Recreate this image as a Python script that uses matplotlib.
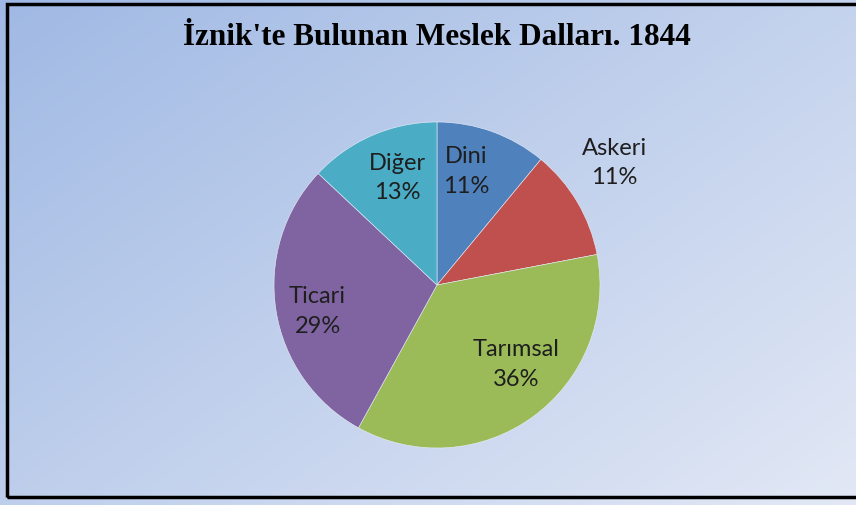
import matplotlib
matplotlib.use("Agg")
import matplotlib.pyplot as plt
import numpy as np
from matplotlib.patches import Rectangle

# Veriler
categories = ["Dini", "Askeri", "Tarımsal", "Ticari", "Diğer"]
shares = [11, 11, 36, 29, 13]
colors = ["#4F81BD", "#C0504D", "#9BBB59", "#8064A2", "#4BACC6"]
title = "İznik'te Bulunan Meslek Dalları. 1844"

W, H = 856, 505
fig = plt.figure(figsize=(W / 100, H / 100), dpi=100)

# Háttér gradiens (bal felső sarok kékebb)
bg = fig.add_axes([0, 0, 1, 1])
yy, xx = np.mgrid[0:1:200j, 0:1:300j]
t = np.clip((xx * 0.55 + yy * 0.45), 0, 1)
c0 = np.array([160, 185, 228]) / 255
c1 = np.array([226, 232, 245]) / 255
img = c0[None, None, :] * (1 - t[..., None]) + c1[None, None, :] * t[..., None]
bg.imshow(img, extent=[0, 1, 0, 1], aspect="auto", origin="upper")
bg.set_xlim(0, 1)
bg.set_ylim(0, 1)
bg.axis("off")

# Keret
bg.add_patch(Rectangle((7.5 / W, 8 / H), 2, 1 - 12 / H, transform=bg.transAxes,
                       fill=False, edgecolor="black", linewidth=2.5, clip_on=False))

# Kördiagram
cx, cy, r = 437, 285, 163
ax = fig.add_axes([(cx - r) / W, (H - cy - r) / H, 2 * r / W, 2 * r / H])
wedges, _ = ax.pie(shares, colors=colors, startangle=90, counterclock=False,
                   wedgeprops=dict(linewidth=0.4, edgecolor="#e8eef8"))
ax.set_xlim(-1, 1)
ax.set_ylim(-1, 1)
ax.axis("off")

# Címkék helye: távolság a középponttól és szögeltolás
dist = [0.72, 1.32, 0.69, 0.75, 0.70]
shift = [5.4, 3.9, 9.0, 3.4, -2.9]
for w, name, val, d, s in zip(wedges, categories, shares, dist, shift):
    ang = np.deg2rad((w.theta1 + w.theta2) / 2 + s)
    ax.text(d * np.cos(ang), d * np.sin(ang), f"{name}\n{val}%",
            ha="center", va="center", fontsize=17, family="Lato",
            color="#1e1e1e", linespacing=1.5)

fig.text(437 / W, 1 - 45 / H, title, ha="center", va="baseline",
         fontsize=22.5, family="Liberation Serif", fontweight="bold", color="black")

fig.savefig("out.png", dpi=100)
